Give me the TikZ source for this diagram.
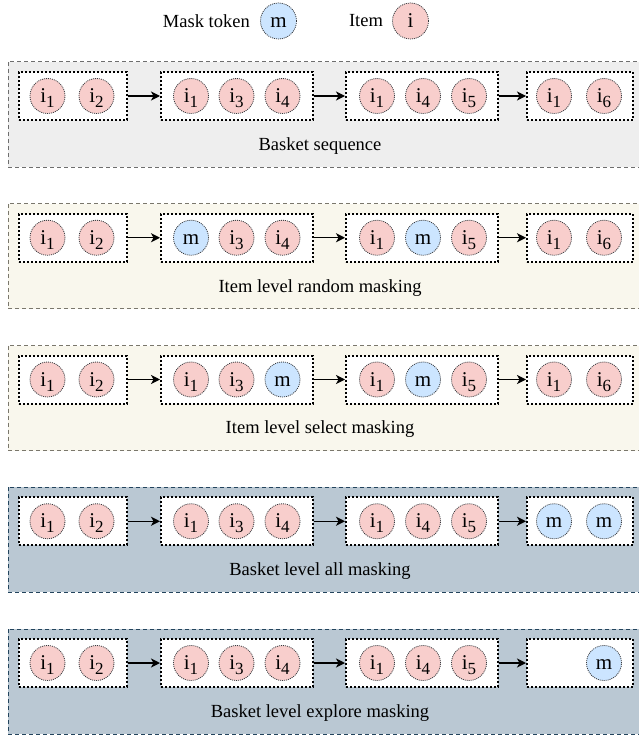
\documentclass[tikz,border=0pt]{standalone}
\usepackage{fontspec}
\setmainfont{Liberation Serif}
\usetikzlibrary{arrows.meta}
\definecolor{itemfill}{HTML}{F8CECC}
\definecolor{maskfill}{HTML}{CCE5FF}
\definecolor{circstroke}{HTML}{36393D}
\definecolor{grayfill}{HTML}{EEEEEE}
\definecolor{creamfill}{HTML}{F9F7ED}
\definecolor{bluefill}{HTML}{BAC8D3}
\definecolor{bluestroke}{HTML}{23445D}
\definecolor{graystroke}{HTML}{6E6E6E}
\definecolor{creamstroke}{HTML}{7A776C}
\newcommand\itm[1]{i\raisebox{-5bp}{\fontsize{17bp}{17bp}\selectfont #1}}
\tikzset{
 tok/.style={circle, minimum size=35bp, inner sep=0pt, draw=circstroke, line width=0.8bp,
   dash pattern=on 1bp off 1bp, text height=13bp, text depth=0bp,
   font=\fontsize{21bp}{21bp}\selectfont},
 itemtok/.style={tok, fill=itemfill},
 masktok/.style={tok, fill=maskfill},
 basketbox/.style={draw=black, fill=white, line width=2bp, dash pattern=on 2bp off 2bp,
   minimum height=48bp, inner sep=0pt},
 panelbox/.style={line width=1bp, dash pattern=on 4bp off 3bp},
 grypanel/.style={panelbox, draw=graystroke, fill=grayfill},
 crmpanel/.style={panelbox, draw=creamstroke, fill=creamfill},
 blupanel/.style={panelbox, draw=bluestroke, fill=bluefill},
 lbl/.style={font=\fontsize{18.5bp}{22bp}\selectfont, inner sep=0pt},
 flow/.style={line width=1.3bp, -{Stealth[length=9bp,width=9bp,inset=2.5bp]}},
}
\newcommand\drawpanel[4]{%
 \pgfmathsetmacro\ptop{62+(#1-1)*141.75}%
 \pgfmathsetmacro\pc{\ptop+34}%
 \pgfmathsetmacro\pbot{\ptop+105}%
 \pgfmathsetmacro\plab{\ptop+84}%
 \draw[#2] (8,\ptop) rectangle (648,\pbot);
 \node[basketbox, minimum width=108bp] (p#1b1) at (73,\pc) {};
 \node[basketbox, minimum width=152bp] (p#1b2) at (237,\pc) {};
 \node[basketbox, minimum width=152bp] (p#1b3) at (422,\pc) {};
 \node[basketbox, minimum width=106bp] (p#1b4) at (580,\pc) {};
 \draw[flow] (p#1b1.east) -- (p#1b2.west);
 \draw[flow] (p#1b2.east) -- (p#1b3.west);
 \draw[flow] (p#1b3.east) -- (p#1b4.west);
 \foreach \x/\s/\t [count=\k] in {#4} \node[\s] (p#1c\k) at (\x,\pc) {\t};
 \node[lbl] (p#1lbl) at (320,\plab) {#3};
}
\begin{document}
\begin{tikzpicture}[x=1bp,y=-1bp]
\useasboundingbox (0,0) rectangle (639,735);
\clip (0,0) rectangle (639,735);
% legend
\node[lbl, anchor=east] (lgmasktxt) at (250,21) {Mask token};
\node[masktok, minimum size=36bp] (lgm) at (278.5,21) {m};
\node[lbl] (lgitemtxt) at (366,21) {Item};
\node[itemtok, minimum size=36bp] (lgi) at (410.5,21) {i};
% panels
\drawpanel{1}{grypanel}{Basket sequence}{47.5/itemtok/\itm{1}, 96.5/itemtok/\itm{2},
 191/itemtok/\itm{1}, 236.5/itemtok/\itm{3}, 282.5/itemtok/\itm{4},
 377/itemtok/\itm{1}, 423/itemtok/\itm{4}, 469/itemtok/\itm{5},
 554/itemtok/\itm{1}, 604/itemtok/\itm{6}}
\drawpanel{2}{crmpanel}{Item level random masking}{47.5/itemtok/\itm{1}, 96.5/itemtok/\itm{2},
 191/masktok/m, 236.5/itemtok/\itm{3}, 282.5/itemtok/\itm{4},
 377/itemtok/\itm{1}, 423/masktok/m, 469/itemtok/\itm{5},
 554/itemtok/\itm{1}, 604/itemtok/\itm{6}}
\drawpanel{3}{crmpanel}{Item level select masking}{47.5/itemtok/\itm{1}, 96.5/itemtok/\itm{2},
 191/itemtok/\itm{1}, 236.5/itemtok/\itm{3}, 282.5/masktok/m,
 377/itemtok/\itm{1}, 423/masktok/m, 469/itemtok/\itm{5},
 554/itemtok/\itm{1}, 604/itemtok/\itm{6}}
\drawpanel{4}{blupanel}{Basket level all masking}{47.5/itemtok/\itm{1}, 96.5/itemtok/\itm{2},
 191/itemtok/\itm{1}, 236.5/itemtok/\itm{3}, 282.5/itemtok/\itm{4},
 377/itemtok/\itm{1}, 423/itemtok/\itm{4}, 469/itemtok/\itm{5},
 554/masktok/m, 604/masktok/m}
\drawpanel{5}{blupanel}{Basket level explore masking}{47.5/itemtok/\itm{1}, 96.5/itemtok/\itm{2},
 191/itemtok/\itm{1}, 236.5/itemtok/\itm{3}, 282.5/itemtok/\itm{4},
 377/itemtok/\itm{1}, 423/itemtok/\itm{4}, 469/itemtok/\itm{5},
 604/masktok/m}
\end{tikzpicture}
\end{document}
